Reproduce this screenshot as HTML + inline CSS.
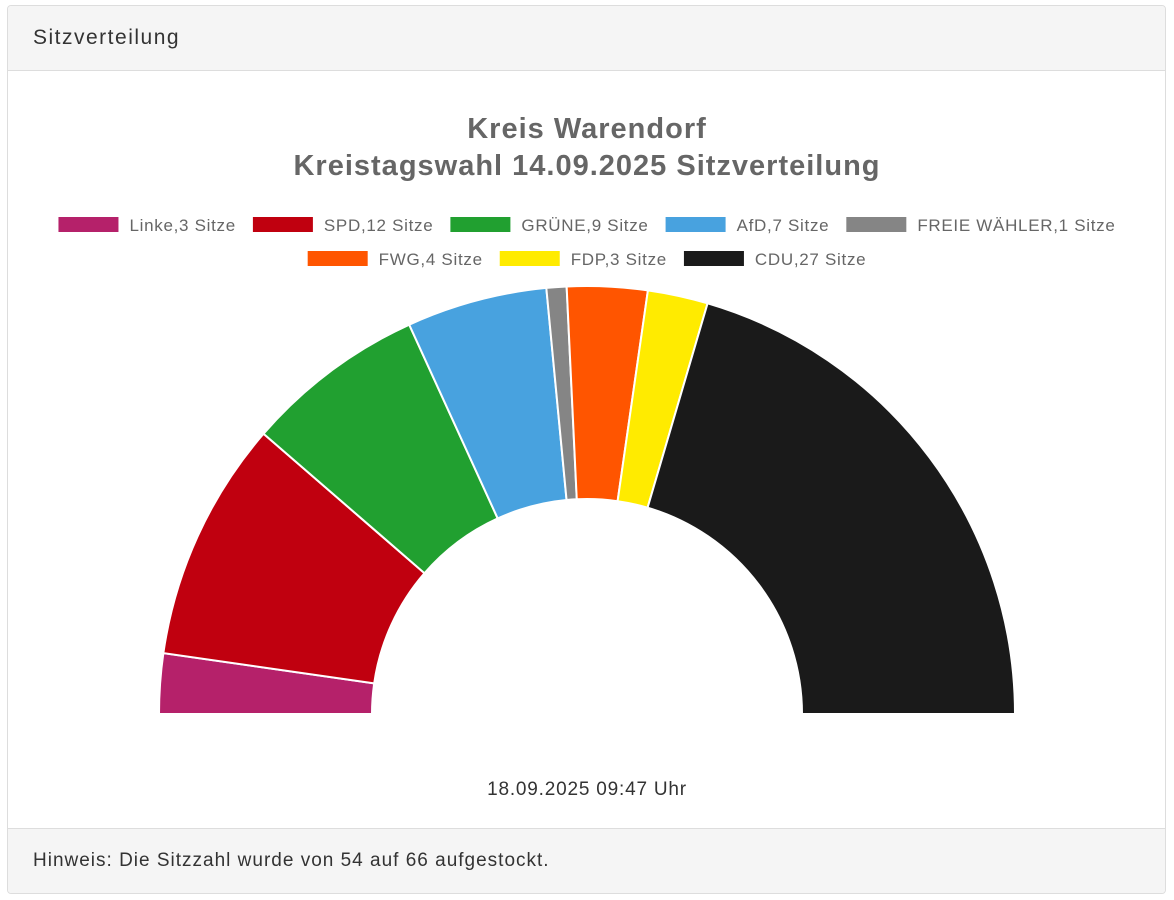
<!DOCTYPE html>
<html><head><meta charset="utf-8"><style>
body{margin:0;width:1174px;height:900px;background:#fff;font-family:"Liberation Sans",sans-serif;position:relative;overflow:hidden}
.panel{position:absolute;left:7px;top:5px;width:1159px;height:889px;border:1px solid #ddd;border-radius:4px;box-sizing:border-box;overflow:hidden}
.head{position:absolute;left:0;top:0;right:0;height:64px;background:#f5f5f5;border-bottom:1px solid #ddd;font-size:21px;letter-spacing:1.5px;color:#333;line-height:64px;padding-left:25px}
.foot{position:absolute;left:0;bottom:0;right:0;height:64px;background:#f5f5f5;border-top:1px solid #ddd;font-size:19px;letter-spacing:1px;color:#333;line-height:64px;padding-left:25px}
svg{position:absolute;left:0;top:0}
</style></head><body>
<div class="panel">
<div class="head">Sitzverteilung</div>
<div class="foot">Hinweis: Die Sitzzahl wurde von 54 auf 66 aufgestockt.</div>
</div>
<svg id="chart" width="1174" height="900">
<text x="587" y="138" text-anchor="middle" font-size="29" letter-spacing="1" font-weight="bold" fill="#666">Kreis Warendorf</text>
<text x="587" y="175" text-anchor="middle" font-size="29" letter-spacing="1" font-weight="bold" fill="#666">Kreistagswahl 14.09.2025 Sitzverteilung</text>
<text x="587" y="795" text-anchor="middle" font-size="19" letter-spacing="0.8" fill="#333">18.09.2025 09:47 Uhr</text>
</svg>
<script>
const parties=["Linke","SPD","GRÜNE","AfD","FREIE WÄHLER","FWG","FDP","CDU"];
const seats=[3,12,9,7,1,4,3,27];
const colors=["#b5216a","#c0000f","#21a030","#48a2df","#858585","#ff5500","#ffeb00","#1a1a1a"];
const svg=document.getElementById('chart');
const NS="http://www.w3.org/2000/svg";
const cx=587,cy=714,R=428,r=215;
const total=seats.reduce((a,b)=>a+b,0);
function pt(rad,a){return [cx-rad*Math.cos(a),cy-rad*Math.sin(a)];}
let acc=0;
seats.forEach((s,i)=>{
  const a0=acc/total*Math.PI,a1=(acc+s)/total*Math.PI;acc+=s;
  const [x0,y0]=pt(R,a0),[x1,y1]=pt(R,a1),[x2,y2]=pt(r,a1),[x3,y3]=pt(r,a0);
  const p=document.createElementNS(NS,'path');
  p.setAttribute('d',`M${x0},${y0}A${R},${R} 0 0 1 ${x1},${y1}L${x2},${y2}A${r},${r} 0 0 0 ${x3},${y3}Z`);
  p.setAttribute('fill',colors[i]);p.setAttribute('stroke','#fff');p.setAttribute('stroke-width','2');
  
  
  svg.appendChild(p);
});
const rows=[[0,1,2,3,4],[5,6,7]];
const ys=[225,259];
const ls=0.7;
const ctx=document.createElement('canvas').getContext('2d');ctx.font='17px "Liberation Sans", sans-serif';
rows.forEach((row,ri)=>{
  const items=row.map(i=>({i,label:parties[i]+','+seats[i]+' Sitze'}));
  const widths=items.map(it=>60+11+ctx.measureText(it.label).width+ls*it.label.length);
  const gap=17;
  const tw=widths.reduce((a,b)=>a+b,0)+gap*(items.length-1);
  let x=587-tw/2;
  items.forEach((it,k)=>{
    const g=document.createElementNS(NS,'g');
    
    
    const rc=document.createElementNS(NS,'rect');
    rc.setAttribute('x',x);rc.setAttribute('y',ys[ri]-8);rc.setAttribute('width',60);rc.setAttribute('height',15);rc.setAttribute('fill',colors[it.i]);
    const t=document.createElementNS(NS,'text');
    t.setAttribute('x',x+71);t.setAttribute('y',ys[ri]+6);t.setAttribute('font-size','17');t.setAttribute('letter-spacing',ls);t.setAttribute('fill','#666');
    t.textContent=it.label;
    g.appendChild(rc);g.appendChild(t);svg.appendChild(g);
    x+=widths[k]+gap;
  });
});
</script>
</body></html>
